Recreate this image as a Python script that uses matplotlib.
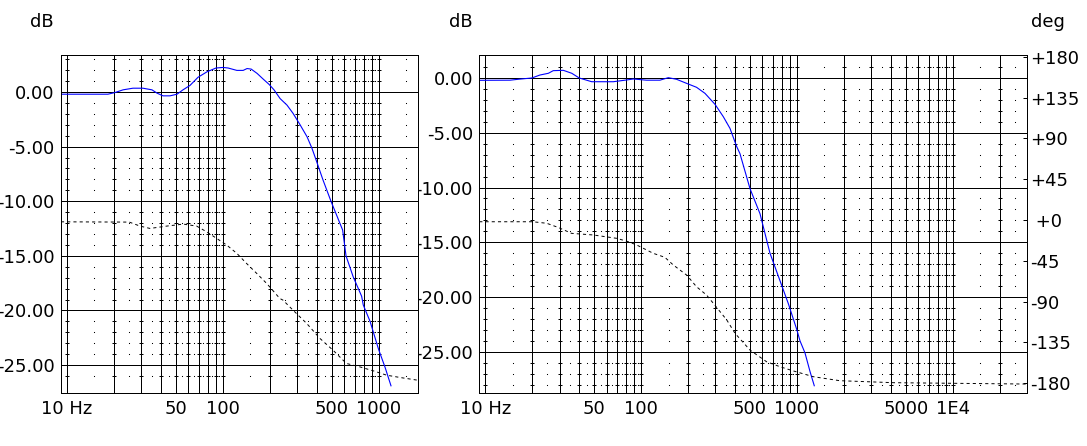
import numpy as np
import matplotlib
matplotlib.use("Agg")
import matplotlib.pyplot as plt
from matplotlib.ticker import NullLocator
from matplotlib.transforms import Bbox, TransformedBbox

# ---------------------------------
# data
# left chart: magnitude (dB) and phase (deg) against frequency (Hz)
left_mag_f = [9.15, 18.3, 20.3, 22.9, 26.5, 30.7, 35.1, 37.8, 41.3, 45.8, 50.8, 55.5, 61.5,
              69.3, 79.1, 90.4, 100.2, 108, 123, 135, 143, 152, 166, 181, 198, 213, 233,
              258, 282, 313, 347, 373, 396, 439, 494, 587, 617, 685, 777, 796, 880, 1000,
              1098, 1199]
left_mag_db = [-0.2, -0.2, -0.05, 0.2, 0.35, 0.35, 0.2, -0.1, -0.35, -0.35, -0.2, 0.2, 0.6,
               1.35, 1.85, 2.2, 2.25, 2.2, 1.98, 1.98, 2.15, 2.1, 1.7, 1.2, 0.7, 0.2, -0.6,
               -1.2, -1.95, -3.0, -4.1, -5.15, -6.2, -8.05, -10.0, -12.64, -15.0, -16.9,
               -18.7, -19.5, -21.0, -23.6, -25.2, -26.9]
left_ph_f = [9.15, 25.1, 29.4, 34.1, 43.7, 55.7, 67.9, 78.7, 91.3, 106, 123, 142, 165, 191,
             232, 243, 282, 345, 420, 509, 620, 757, 924, 1127, 1371, 1779]
left_ph_deg = [-1.9, -2.2, -6.6, -9.2, -6.6, -4.4, -6.6, -12.9, -20.2, -27.6, -36.7, -47.8,
               -58.8, -69.8, -86.4, -88.2, -99.3, -113.9, -130.5, -143.4, -158.0, -161.8,
               -166.2, -171.0, -173.5, -176.5]

# right chart
right_mag_f = [9.15, 14.4, 16.7, 19.9, 22.4, 25.4, 27.3, 31.7, 35.9, 40.1, 48.2, 66.3, 80.8,
               89.1, 108.6, 132, 149.5, 169, 196, 227, 257, 298, 337, 372, 411, 431, 500,
               580, 672, 881, 1000, 1047, 1127, 1214, 1293]
right_mag_db = [-0.21, -0.2, -0.1, 0.0, 0.27, 0.43, 0.67, 0.7, 0.43, 0.0, -0.34, -0.34, -0.18,
                -0.09, -0.2, -0.2, 0.03, -0.12, -0.49, -0.85, -1.4, -2.4, -3.53, -4.6, -6.27,
                -6.9, -10.1, -12.4, -16.0, -20.6, -23.0, -24.0, -25.1, -26.8, -28.1]
right_ph_f = [9.15, 20.2, 24.8, 29.3, 35.8, 49.4, 69.8, 82.7, 93.9, 119.6, 142, 161, 196, 227,
              263, 291, 355, 401, 500, 639, 779, 952, 1276, 1884, 4169, 29860]
right_ph_deg = [-1.9, -1.9, -3.6, -8.1, -14.7, -16.5, -20.2, -23.9, -27.6, -36.7, -41.1, -49.6,
                -60.7, -73.6, -82.7, -91.9, -110.3, -125.0, -143.4, -156.3, -161.8, -166.5,
                -172.8, -177.2, -179.4, -180.9]

# axis texts
db_ticks = [0, -5, -10, -15, -20, -25]
db_labels = ["0.00", "-5.00", "-10.00", "-15.00", "-20.00", "-25.00"]
deg_ticks = [180, 135, 90, 45, 0, -45, -90, -135, -180]
deg_labels = ["+180", "+135", "+90", "+45", " +0", "-45", "-90", "-135", "-180"]
left_xticks = [10, 50, 100, 500, 1000]
left_xlabels = ["10 Hz", "50", "100", "500", "1000"]
right_xticks = [10, 50, 100, 500, 1000, 5000, 10000]
right_xlabels = ["10 Hz", "50", "100", "500", "1000", "5000", "1E4"]

# ---------------------------------
W, H = 1087, 446
fs = 13
lw = 0.72      # 1 px grid / frame
curve_lw = 0.8

fig = plt.figure(figsize=(W / 100, H / 100), dpi=100)
fig.patch.set_facecolor("white")


def px_axes(x0, y0, x1, y1):
    # pixel box (top-left origin) -> figure fractions
    return fig.add_axes([x0 / W, 1 - y1 / H, (x1 - x0) / W, (y1 - y0) / H])


def draw_grid(ax, fmin, fmax, dbmin, dbmax):
    major = [k * 10 ** n for n in range(0, 6) for k in range(1, 10)]
    major = [f for f in major if fmin < f < fmax]
    mids = [(k + 0.5) * 10 ** n for n in range(0, 6) for k in range(1, 10)]
    mids = [f for f in mids if fmin * 1.1 < f < fmax / 1.03]
    for f in major:
        ax.axvline(f, color="k", lw=lw, zorder=1, antialiased=False)
    for d in range(-30, 5, 5):
        if dbmin < d < dbmax:
            ax.axhline(d, color="k", lw=lw, zorder=1, antialiased=False)
    rows = [d for d in range(-30, 5) if d % 5 != 0 and dbmin + 0.6 < d < dbmax - 0.3]
    X, Y = np.meshgrid(major, rows)
    ax.plot(X.ravel(), Y.ravel(), ls="none", marker="_", ms=2.2, mew=lw, color="k",
            zorder=1, antialiased=False)
    X, Y = np.meshgrid(mids, rows)
    ax.plot(X.ravel(), Y.ravel(), ls="none", marker="s", ms=0.75, mew=0, color="k",
            zorder=1, antialiased=False)


def setup_panel(box, xlim, ylim, plim, mag_f, mag_db, ph_f, ph_deg, xt, xl, clip_x):
    ax = px_axes(*box)
    ax.set_xscale("log")
    draw_grid(ax, xlim[0], xlim[1], ylim[0], ylim[1])
    ax.plot(mag_f, mag_db, color="#0000ff", lw=curve_lw, zorder=3)
    ax.set_xlim(*xlim)
    ax.set_ylim(*ylim)
    ax.set_xticks(xt, xl)
    ax.xaxis.set_minor_locator(NullLocator())
    ax.tick_params(axis="x", length=0, pad=4.7, labelsize=fs)
    ax.set_yticks([])
    for s in ax.spines.values():
        s.set_linewidth(lw)
        s.set_antialiased(False)

    # dB labels, clipped where the neighbouring chart starts
    width_px = box[2] - box[0]
    clip = TransformedBbox(Bbox.from_extents(clip_x / W, 0, 1, 1), fig.transFigure)
    for v, lab in zip(db_ticks, db_labels):
        t = fig.text(-6.3 / width_px, v, lab, transform=ax.get_yaxis_transform(),
                     ha="right", va="center_baseline", fontsize=fs)
        t.set_clip_on(True)
        t.set_clip_box(clip)

    axp = ax.twinx()
    axp.plot(ph_f, ph_deg, color="k", lw=0.7, dashes=(3.2, 3.2), zorder=3)
    axp.set_ylim(*plim)
    axp.set_xlim(*xlim)
    for s in axp.spines.values():
        s.set_linewidth(lw)
        s.set_antialiased(False)
    return ax, axp


ax1, ax1p = setup_panel((61, 55, 417.7, 393), (9.153, 1779), (-27.56, 3.39), (-190.6, 182.0),
                        left_mag_f, left_mag_db, left_ph_f, left_ph_deg,
                        left_xticks, left_xlabels, 0)
ax1p.set_yticks([])

ax2, ax2p = setup_panel((479.3, 55, 1026.7, 393.3), (9.152, 29860), (-28.79, 2.10), (-191.1, 182.0),
                        right_mag_f, right_mag_db, right_ph_f, right_ph_deg,
                        right_xticks, right_xlabels, 418.5)
ax2p.set_yticks(deg_ticks, deg_labels)
ax2p.yaxis.set_minor_locator(NullLocator())
ax2p.tick_params(axis="y", direction="in", length=2.9, width=lw, pad=2.6, labelsize=fs)

# unit captions above the charts
fig.text(41.7 / W, 1 - 26.7 / H, "dB", ha="center", va="baseline", fontsize=fs)
fig.text(460.5 / W, 1 - 26.7 / H, "dB", ha="center", va="baseline", fontsize=fs)
fig.text(1030.5 / W, 1 - 26.7 / H, "deg", ha="left", va="baseline", fontsize=fs)

fig.savefig("out.png", dpi=100)
plt.close(fig)
